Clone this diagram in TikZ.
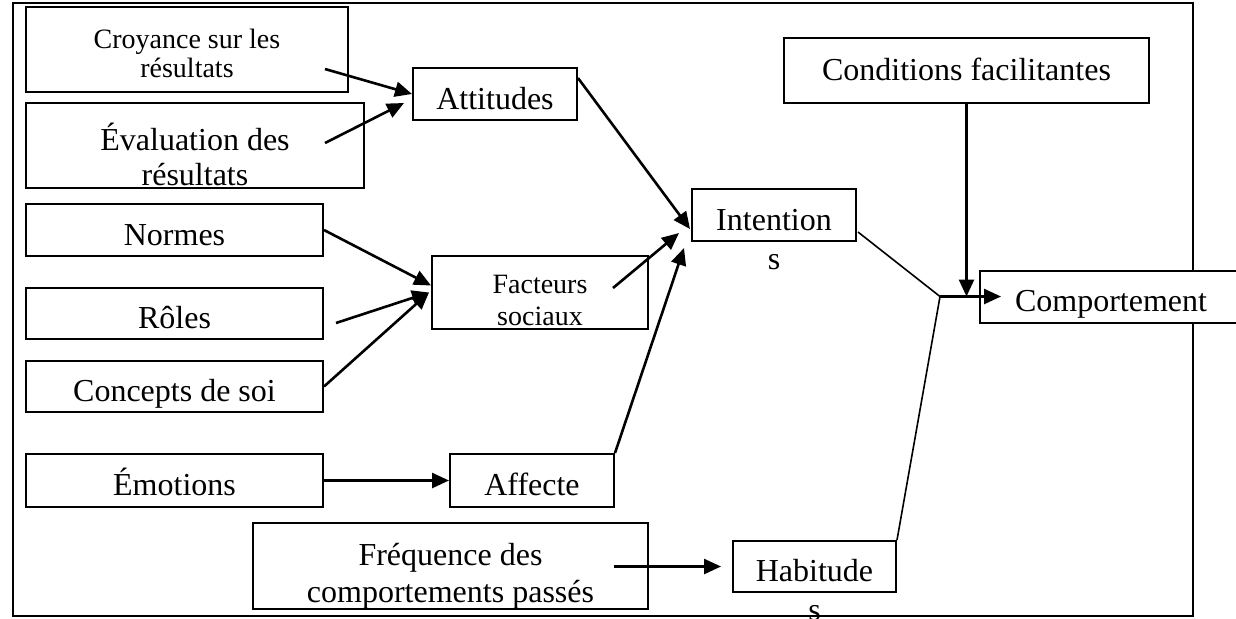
\documentclass[tikz,border=0pt]{standalone}
\usepackage{fontspec}
\setmainfont{Liberation Serif}
\usepackage{tikz}
\usetikzlibrary{arrows.meta}
\usetikzlibrary{calc}

\begin{document}
\begin{tikzpicture}[x=0.5pt, y=-0.5pt,
	box/.style={draw, line width=1pt, fill=white, inner sep=0pt, align=center, text height=15pt, text depth=0pt, font=\fontsize{16pt}{18.5pt}\selectfont},
	smallbox/.style={box, font=\fontsize{14pt}{14.5pt}\selectfont},
	arrow/.style={line width=1.3pt, -{Triangle[length=8.5pt,width=7.5pt]}},
	joinline/.style={line width=0.8pt},
	label distance=2.5pt,
	every label/.style={font=\fontsize{16pt}{18.5pt}\selectfont}]
	\useasboundingbox (0,0) rectangle (1236,618);
	\draw[line width=1pt] (13,3) rectangle (1193,616);

	% left column
	\node[smallbox, minimum width=161pt, minimum height=42.5pt, text height=27.5pt] (croy) at (187,49.5) {Croyance sur les\\r\'esultats};
	\node[box, minimum width=169pt, minimum height=42.5pt, text height=39.5pt, font=\fontsize{16pt}{17.5pt}\selectfont] (eval) at (195,145.5) {\'Evaluation des\\r\'esultats};
	\node[box, minimum width=148.5pt, minimum height=26pt] (normes) at (174.5,230) {Normes};
	\node[box, minimum width=148.5pt, minimum height=25.5pt] (roles) at (174.5,313.5) {R\^oles};
	\node[box, minimum width=148.5pt, minimum height=25.5pt] (concepts) at (174.5,386.5) {Concepts de soi};
	\node[box, minimum width=148.5pt, minimum height=26.5pt] (emo) at (174.5,480.5) {\'Emotions};
	\node[box, minimum width=197.5pt, minimum height=43pt, text height=36pt] (freq) at (450.5,566) {Fr\'equence des\\comportements pass\'es};

	% middle
	\node[box, minimum width=82pt, minimum height=26pt] (att) at (495,94) {Attitudes};
	\node[smallbox, minimum width=108pt, minimum height=36.5pt, text height=32.5pt, font=\fontsize{14pt}{16pt}\selectfont] (facs) at (540,292.5) {Facteurs\\sociaux};
	\node[box, minimum width=82pt, minimum height=26.5pt] (aff) at (532,480.5) {Affecte};
	\node[box, minimum width=82pt, minimum height=26pt, label={below:s}] (int) at (774,215) {Intention};
	\node[box, minimum width=81.5pt, minimum height=25.5pt, label={below:s}] (hab) at (814.5,566.5) {Habitude};

	% right
	\node[box, minimum width=182.5pt, minimum height=32.5pt, text height=9.5pt] (cond) at (966.5,70.5) {Conditions facilitantes};
	\node[box, minimum width=131pt, minimum height=26pt] (comp) at (1111,296.5) {Comportement};

	\coordinate (croyout) at (325,69);
	\coordinate (evalout) at (325,143);
	\coordinate (rolesout) at (336,323);
	\coordinate (facsout) at (613,288);
	\coordinate (freqout) at (614,566.5);
	\coordinate (junc) at (940,296.5);

	\draw[arrow] (croyout) -- (att.west);
	\draw[arrow] (evalout) -- ([shift={(-8,9)}]att.west);
	\draw[arrow] ([shift={(0,-16)}]att.east) -- ([shift={(-1,14)}]int.west);
	\draw[arrow] (normes.east) -- ([shift={(0,-7)}]facs.west);
	\draw[arrow] (rolesout) -- ([shift={(-2,0)}]facs.west);
	\draw[arrow] (concepts.east) -- ([shift={(-2,0)}]facs.west);
	\draw[arrow] (facsout) -- ([shift={(-12,18)}]int.west);
	\draw[arrow] (emo) -- (aff);
	\draw[arrow] (aff.north east) -- ([shift={(-7,33)}]int.west);
	\draw[arrow, shorten >=5.5pt] (freqout) -- (hab.west);

	\draw[joinline] ([shift={(1,17)}]int.east) -- (junc);
	\draw[joinline] (hab.north east) -- (junc);
	\draw[arrow] (junc) -- ([shift={(22,0)}]comp.west);
	\draw[arrow] (cond.south) -- (cond.south |- junc);
\end{tikzpicture}
\end{document}
